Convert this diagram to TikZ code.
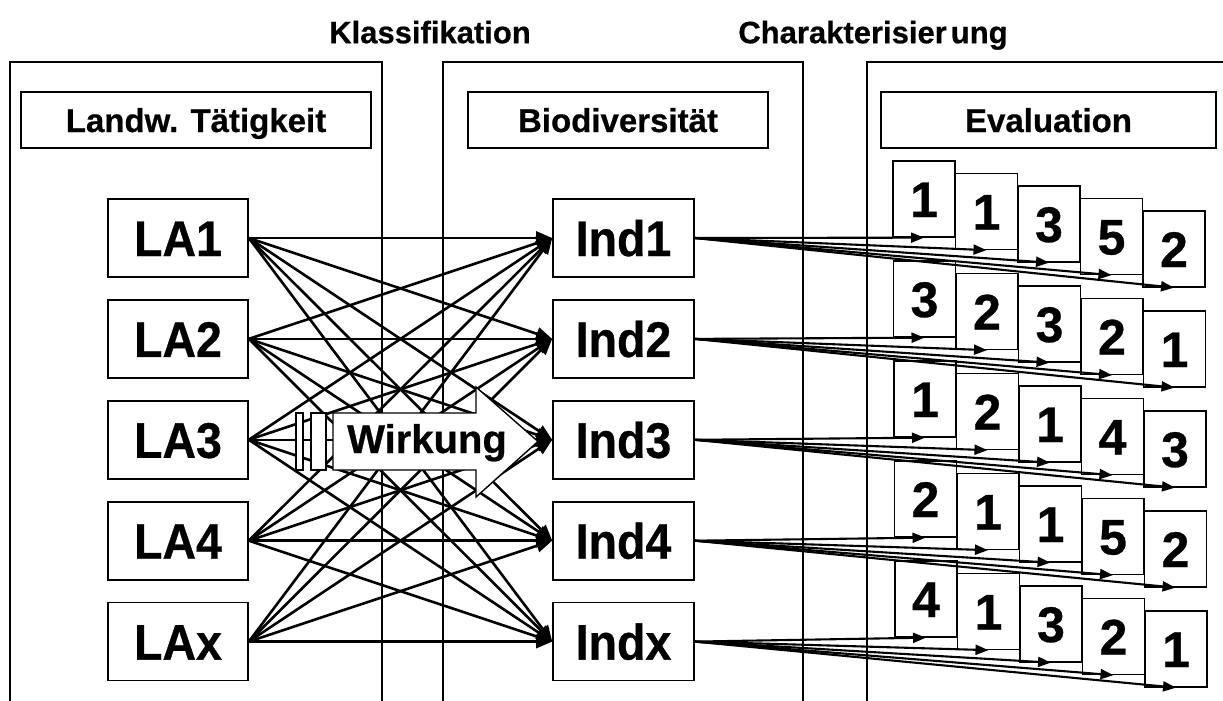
\documentclass[tikz,border=0pt]{standalone}
\usepackage{fontspec}
\setmainfont{Liberation Sans}
\newfontfamily\heavy{Liberation Sans Bold}[FakeBold=0.6]
\usetikzlibrary{arrows.meta}
\begin{document}
\begin{tikzpicture}[x=1pt,y=-1pt,
  frameline/.style={line width=1.4pt},
  hbox/.style={draw,line width=1.6pt,fill=white,minimum height=56pt,inner sep=0pt,
    font=\fontsize{33}{33}\heavy,text height=24pt,text depth=0pt},
  title/.style={inner sep=0pt,font=\fontsize{31}{31}\heavy,text height=22.5pt,text depth=0pt},
  bigbox/.style={draw,line width=1.6pt,fill=white,minimum width=140pt,minimum height=78pt,inner sep=0pt,
    font=\fontsize{50}{50}\heavy,text height=36pt,text depth=0pt},
  card/.style={draw,line width=1.3pt,fill=white,minimum width=62pt,minimum height=76pt,inner sep=0pt,
    font=\fontsize{50}{50}\heavy,text height=36pt,text depth=0pt},
  conn/.style={line width=2.6pt,-{Triangle[length=16pt,width=13pt]}},
  evarrow/.style={line width=2.1pt,-{Triangle[length=13pt,width=10pt]}},
  wirk/.style={draw,line width=1.4pt,fill=white}
]
\useasboundingbox (0,0) rectangle (1223,701);

% titles
\node[title] (tK) at (430,32) {Klassifikation};
\node[title] (tC) at (873,32) {Charakterisier\kern4pt ung};

% column frames
\draw[frameline] (10,701) -- (10,62) -- (382,62) -- (382,701);
\draw[frameline] (443,701) -- (443,62) -- (803,62) -- (803,701);
\draw[frameline] (867,701) -- (867,62) -- (1223,62);

% header boxes
\node[hbox,minimum width=350pt] (hL) at (196,120) {Landw. Tätigkeit};
\node[hbox,minimum width=300pt] (hB) at (618,120) {Biodiversität};
\node[hbox,minimum width=335pt] (hE) at (1048.5,120) {Evaluation};

% LA and Ind boxes
\foreach \i/\t/\u in {1/LA1/Ind1,2/LA2/Ind2,3/LA3/Ind3,4/LA4/Ind4,5/LAx/Indx}{
  \pgfmathsetmacro{\yy}{238+100.9*(\i-1)}
  \node[bigbox] (LA\i) at (178,\yy) {\scalebox{0.93}[1]{\t}};
  \node[bigbox,minimum width=141pt] (Ind\i) at (623.5,\yy) {\scalebox{0.93}[1]{\u}};
}

% all-to-all connectors
\foreach \i in {1,...,5}{
  \foreach \j in {1,...,5}{
    \draw[conn] (LA\i.east) -- (Ind\j.west);
  }
}

% evaluation cards
\foreach \r/\nums in {1/{1,1,3,5,2},2/{3,2,3,2,1},3/{1,2,1,4,3},4/{2,1,1,5,2},5/{4,1,3,2,1}}{
  \foreach \n [count=\k] in \nums {
    \pgfmathsetmacro{\cx}{924+62.5*(\k-1)+0.5*(\r-1)}
    \pgfmathsetmacro{\cy}{199+12.5*(\k-1)+100*(\r-1)}
    \node[card] (c\r-\k) at (\cx,\cy) {\n};
  }
}

% arrows to cards
\foreach \r in {1,...,5}{
  \foreach \k in {1,...,5}{
    \draw[evarrow] (Ind\r.east) -- (c\r-\k.south);
  }
}

% Wirkung block arrow
\draw[wirk] (296,413) rectangle (303,470);
\draw[wirk] (311,413) rectangle (326,470);
\draw[wirk] (333,413) -- (476,413) -- (476,387) -- (538,441.5) -- (476,497) -- (476,470) -- (333,470) -- cycle;
\node[inner sep=0pt,font=\fontsize{40}{40}\heavy,anchor=base] (wk) at (427,453) {Wirkung};
\end{tikzpicture}
\end{document}
